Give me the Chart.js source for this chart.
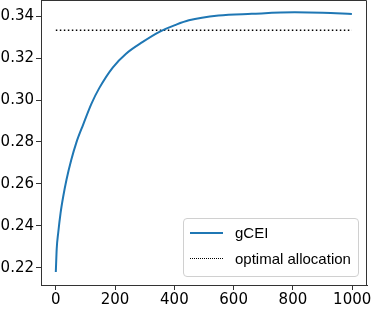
<!DOCTYPE html>
<html>
<head>
<meta charset="utf-8">
<script src="https://cdn.jsdelivr.net/npm/chart.js@4.4.1/dist/chart.umd.min.js"></script>
<style>
    html, body { margin: 0; padding: 0; background: #fff; }
    #wrap { position: relative; width: 374px; height: 310px; }
    #legend {
        position: absolute; left: 183px; top: 218px; width: 176px; height: 59px;
        box-sizing: border-box; border: 1px solid #d0d0d0; border-radius: 4px;
        background: rgba(255,255,255,0.85);
        font-family: "Liberation Sans", Arial, sans-serif; font-size: 15px; color: #000;
    }
    .row { position: absolute; left: 0; height: 20px; line-height: 20px; }
    .row span.txt { position: absolute; left: 51px; white-space: nowrap; }
    .sample { position: absolute; left: 6px; width: 33px; top: 9px; }
</style>
</head>
<body>
<div id="wrap">
    <canvas id="chart" width="374" height="310"></canvas>
    <div id="legend">
        <div class="row" style="top:4px"><div class="sample" style="border-top:2px solid #1f77b4"></div><span class="txt">gCEI</span></div>
        <div class="row" style="top:30px"><div class="sample" style="border-top:1.5px dotted #000"></div><span class="txt">optimal allocation</span></div>
    </div>
</div>
<script>
const iterations = [0, 3, 8, 16, 25, 36, 52, 69, 92, 120, 147, 192, 237, 292, 348, 404, 449, 549, 661, 806, 900, 999];
const gceiValues = [0.218, 0.229, 0.2366, 0.2461, 0.254, 0.262, 0.2714, 0.2796, 0.2882, 0.2982, 0.3058, 0.3155, 0.3221, 0.3276, 0.3324, 0.3358, 0.338, 0.3403, 0.3411, 0.3418, 0.3416, 0.341];
const optimalX = [0, 999];
const optimalValue = 1 / 3;
const xTicks = [0, 200, 400, 600, 800, 1000];
const yTicks = [0.22, 0.24, 0.26, 0.28, 0.30, 0.32, 0.34];

const frame = {
    id: 'frame',
    afterDraw(chart) {
        const { ctx, chartArea: a } = chart;
        ctx.save();
        ctx.strokeStyle = '#333';
        ctx.lineWidth = 1;
        ctx.beginPath();
        ctx.moveTo(a.left, a.top + 0.5);
        ctx.lineTo(a.right - 0.5, a.top + 0.5);
        ctx.lineTo(a.right - 0.5, a.bottom);
        ctx.stroke();
        ctx.restore();
    }
};

const tickFont = { family: '"DejaVu Sans", sans-serif', size: 15 };

new Chart(document.getElementById('chart').getContext('2d'), {
    type: 'line',
    data: {
        datasets: [
            {
                label: 'gCEI',
                data: iterations.map((x, i) => ({ x, y: gceiValues[i] })),
                borderColor: '#1f77b4',
                borderWidth: 2,
                pointRadius: 0,
                cubicInterpolationMode: 'monotone'
            },
            {
                label: 'optimal allocation',
                data: optimalX.map(x => ({ x, y: optimalValue })),
                borderColor: '#000',
                borderWidth: 1.5,
                borderDash: [1.5, 2.5],
                pointRadius: 0
            }
        ]
    },
    options: {
        responsive: false,
        animation: false,
        layout: { padding: { top: 0, right: 7, left: 0, bottom: 0 } },
        plugins: { legend: { display: false }, tooltip: { enabled: false } },
        scales: {
            x: {
                type: 'linear',
                min: -50, max: 1050,
                afterBuildTicks: s => { s.ticks = xTicks.map(v => ({ value: v })); },
                afterFit: s => { s.height = 25; s.paddingLeft = 0; s.paddingRight = 0; },
                grid: { drawOnChartArea: false, drawTicks: true, tickLength: 5, color: '#333' },
                border: { display: true, color: '#333', width: 1 },
                ticks: { font: tickFont, color: '#000', padding: 1, maxRotation: 0, callback: v => String(v) }
            },
            y: {
                min: 0.2118, max: 0.3477,
                afterBuildTicks: s => { s.ticks = yTicks.map(v => ({ value: v })); },
                afterFit: s => { s.width = 41; s.paddingTop = 0; s.paddingBottom = 0; },
                grid: { drawOnChartArea: false, drawTicks: true, tickLength: 5, color: '#333' },
                border: { display: true, color: '#333', width: 1 },
                ticks: { font: tickFont, color: '#000', padding: 2, callback: v => v.toFixed(2) }
            }
        }
    },
    plugins: [frame]
});
</script>
</body>
</html>
